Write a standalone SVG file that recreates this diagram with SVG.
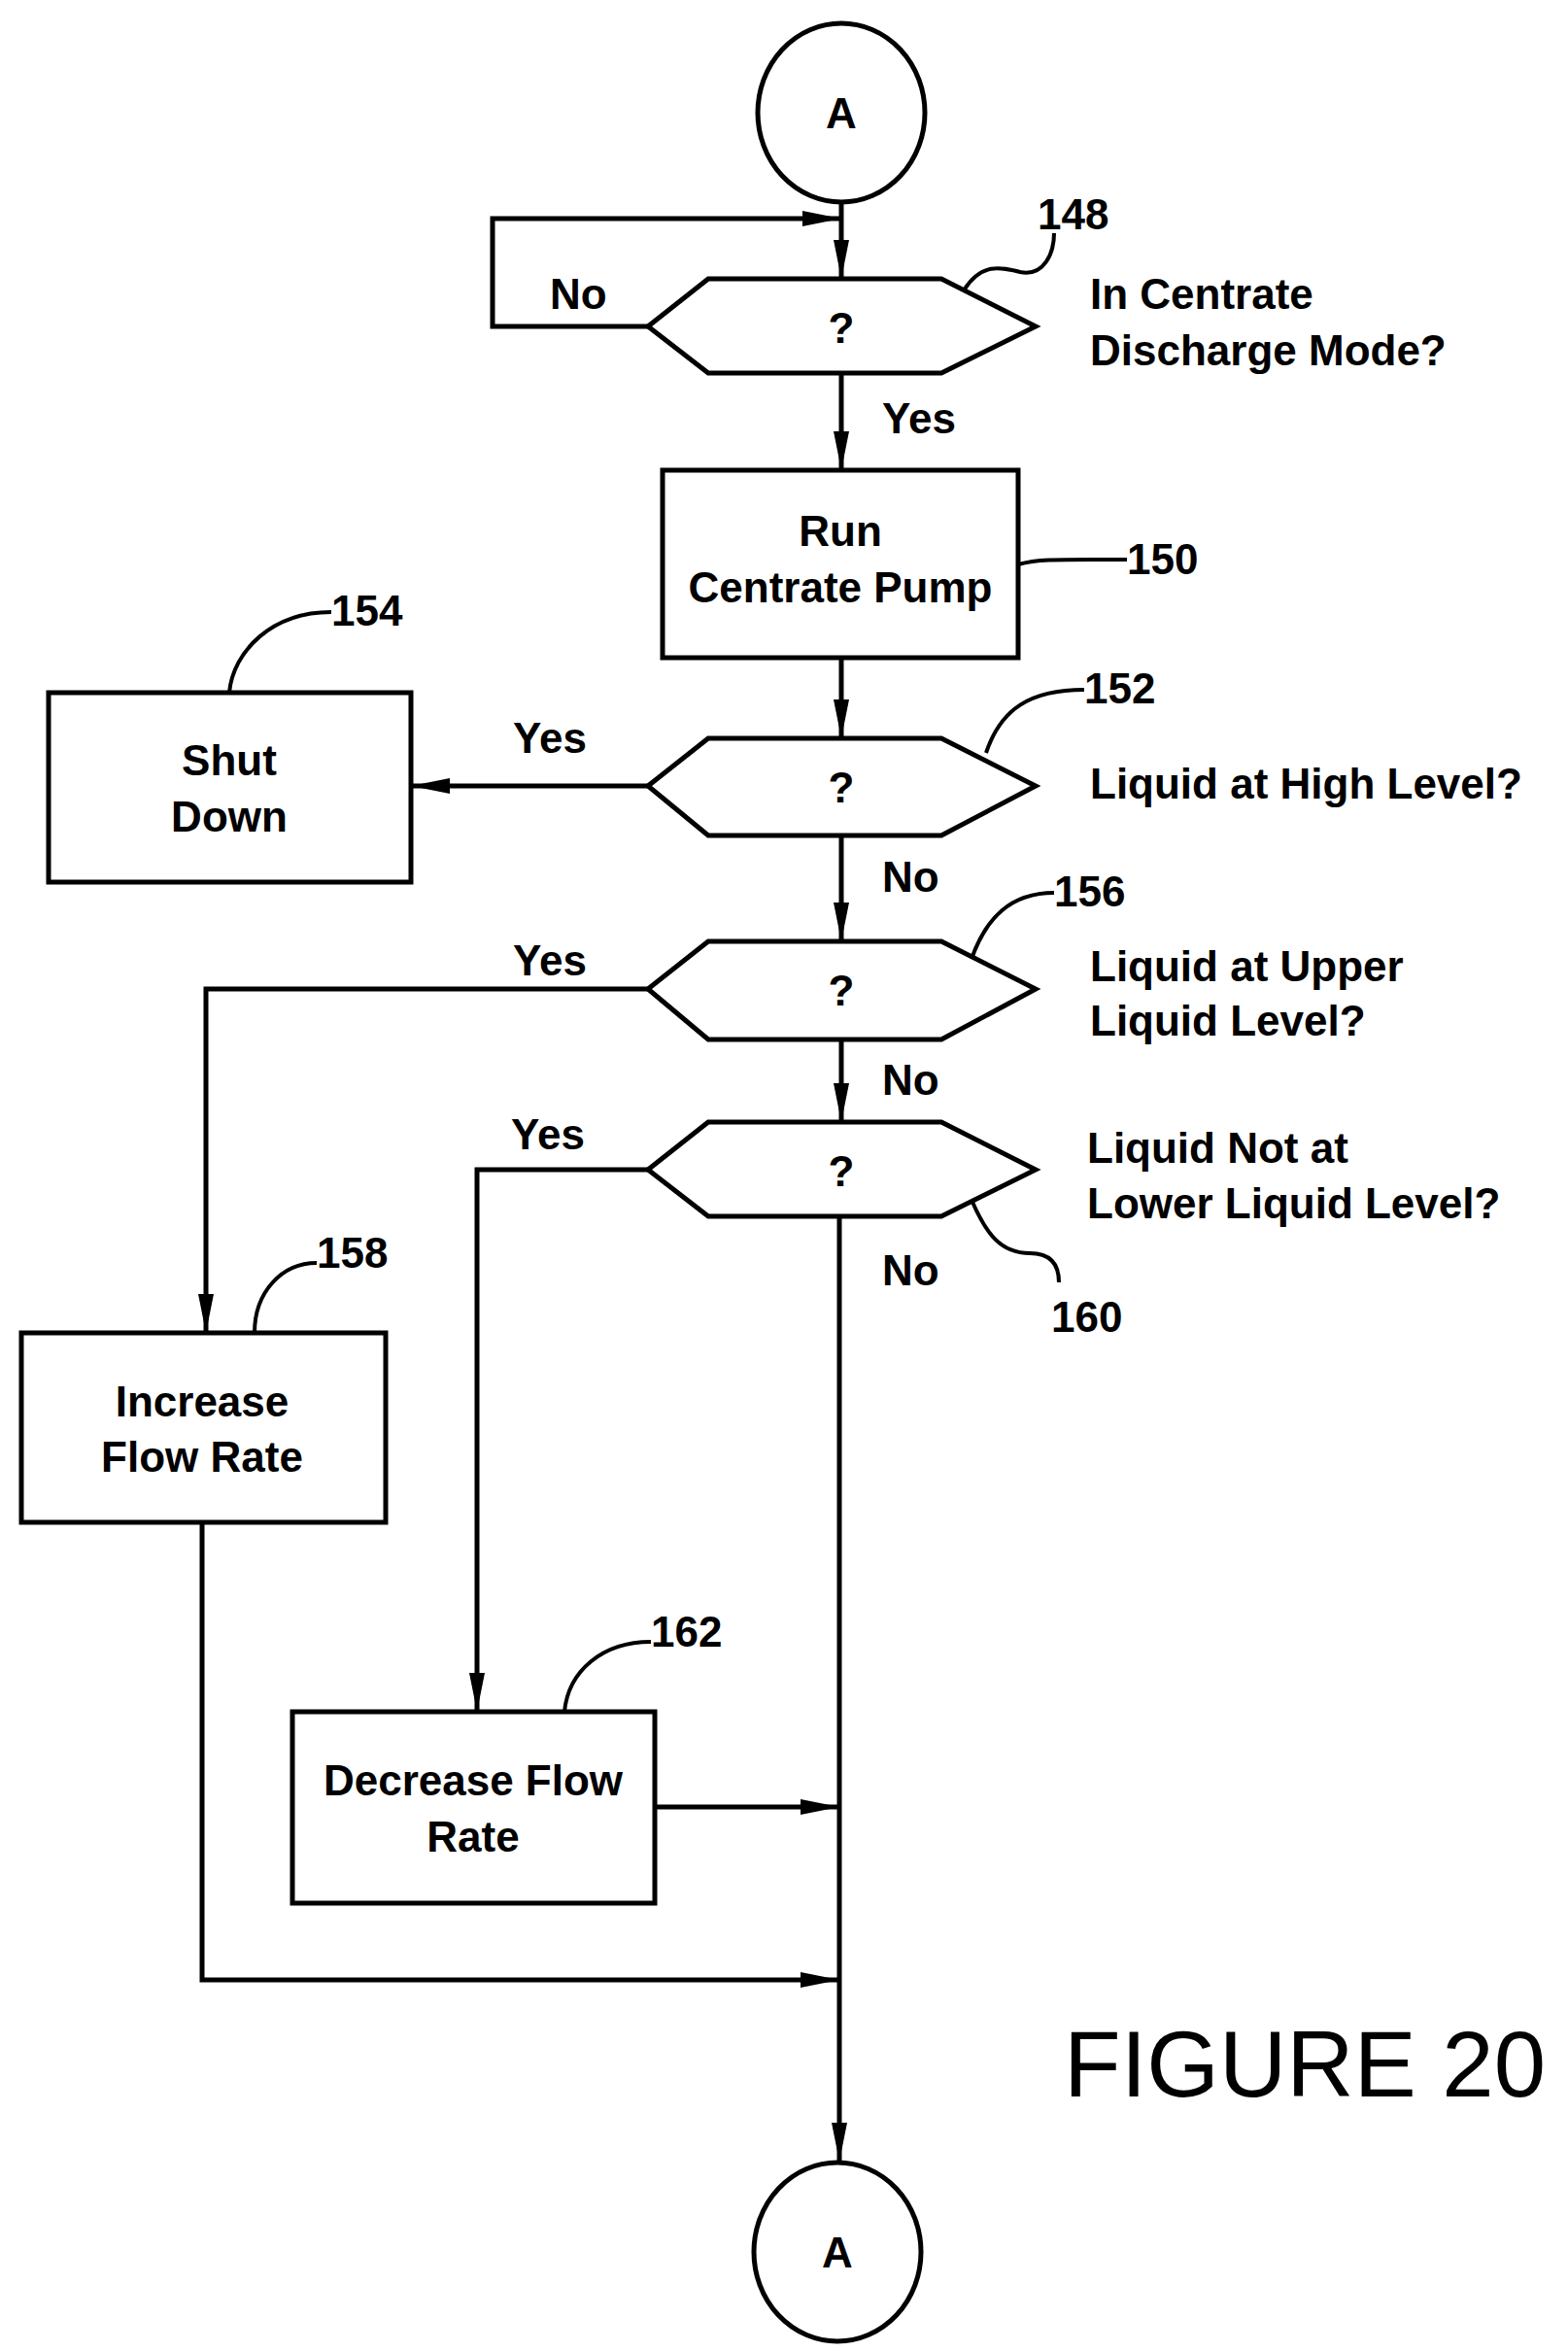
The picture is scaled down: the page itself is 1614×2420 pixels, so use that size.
<svg xmlns="http://www.w3.org/2000/svg" width="1614" height="2420" viewBox="0 0 1614 2420">
<style>
text{font-family:"Liberation Sans",Arial,sans-serif;font-weight:bold;font-size:44px;fill:#000}
.c{text-anchor:middle}
.s{fill:#fff;stroke:#000;stroke-width:5}
.l{fill:none;stroke:#000;stroke-width:5}
.t{fill:none;stroke:#000;stroke-width:4}
.fig{font-weight:normal;font-size:96px}
</style>
<defs>
<marker id="b" viewBox="0 0 40 16" refX="40" refY="8" markerWidth="40" markerHeight="16" markerUnits="userSpaceOnUse" orient="auto">
<path d="M0,0 L40,8 L0,16 z" fill="#000"/>
</marker>
</defs>
<g id="connectors">
<line class="l" x1="866" y1="208" x2="866" y2="287" marker-end="url(#b)"/>
<polyline class="l" points="667,336 507,336 507,225 866,225" marker-end="url(#b)"/>
<line class="l" x1="866" y1="384" x2="866" y2="484" marker-end="url(#b)"/>
<line class="l" x1="866" y1="677" x2="866" y2="760" marker-end="url(#b)"/>
<line class="l" x1="667" y1="809" x2="423" y2="809" marker-end="url(#b)"/>
<line class="l" x1="866" y1="860" x2="866" y2="969" marker-end="url(#b)"/>
<polyline class="l" points="667,1018 212,1018 212,1372" marker-end="url(#b)"/>
<line class="l" x1="866" y1="1070" x2="866" y2="1155" marker-end="url(#b)"/>
<polyline class="l" points="667,1204 491,1204 491,1762" marker-end="url(#b)"/>
<line class="l" x1="864" y1="1252" x2="864" y2="2225" marker-end="url(#b)"/>
<line class="l" x1="674" y1="1860" x2="864" y2="1860" marker-end="url(#b)"/>
<polyline class="l" points="208,1567 208,2038 864,2038" marker-end="url(#b)"/>
</g>
<g id="startA"><ellipse class="s" cx="866" cy="116" rx="86" ry="92"/><text class="c" x="866" y="132">A</text></g>
<g id="n148">
<polygon class="s" points="667,336 729,287 969,287 1066,336 969,384 729,384"/>
<text class="c" x="866" y="353">?</text>
<path class="t" d="M992,299 C1010,270 1030,275 1050,280 C1075,285 1085,260 1085,240"/>
<text x="1068" y="236">148</text>
<text x="1122" y="318">In Centrate</text>
<text x="1122" y="376">Discharge Mode?</text>
</g>
<text x="566" y="318">No</text>
<text x="908" y="446">Yes</text>
<g id="n150">
<rect class="s" x="682" y="484" width="366" height="193"/>
<text class="c" x="865" y="562">Run</text>
<text class="c" x="865" y="620">Centrate Pump</text>
<path class="t" d="M1048,581 C1070,575 1090,576 1160,576"/>
<text x="1160" y="591">150</text>
</g>
<g id="n152">
<polygon class="s" points="667,809 729,760 969,760 1066,809 969,860 729,860"/>
<text class="c" x="866" y="826">?</text>
<path class="t" d="M1015,775 C1030,730 1060,710 1116,710"/>
<text x="1116" y="724">152</text>
<text x="1122" y="822">Liquid at High Level?</text>
</g>
<text x="528" y="775">Yes</text>
<g id="n154">
<rect class="s" x="50" y="713" width="373" height="195"/>
<text class="c" x="236" y="798">Shut</text>
<text class="c" x="236" y="856">Down</text>
<path class="t" d="M236,713 C240,670 280,630 341,630"/>
<text x="341" y="644">154</text>
</g>
<text x="908" y="918">No</text>
<g id="n156">
<polygon class="s" points="667,1018 729,969 969,969 1066,1018 969,1070 729,1070"/>
<text class="c" x="866" y="1035">?</text>
<path class="t" d="M1000,987 C1015,945 1040,919 1085,919"/>
<text x="1085" y="933">156</text>
<text x="1122" y="1010">Liquid at Upper</text>
<text x="1122" y="1066">Liquid Level?</text>
</g>
<text x="528" y="1004">Yes</text>
<text x="908" y="1127">No</text>
<g id="n160">
<polygon class="s" points="667,1204 729,1155 969,1155 1066,1204 969,1252 729,1252"/>
<text class="c" x="866" y="1221">?</text>
<path class="t" d="M1000,1235 C1015,1270 1030,1290 1060,1290 C1080,1290 1090,1300 1090,1320"/>
<text x="1082" y="1371">160</text>
<text x="1119" y="1197">Liquid Not at</text>
<text x="1119" y="1254">Lower Liquid Level?</text>
</g>
<text x="526" y="1183">Yes</text>
<text x="908" y="1323">No</text>
<g id="n158">
<rect class="s" x="22" y="1372" width="375" height="195"/>
<text class="c" x="208" y="1458">Increase</text>
<text class="c" x="208" y="1515">Flow Rate</text>
<path class="t" d="M262,1372 C262,1330 290,1300 326,1300"/>
<text x="326" y="1305">158</text>
</g>
<g id="n162">
<rect class="s" x="301" y="1762" width="373" height="197"/>
<text class="c" x="487" y="1848">Decrease Flow</text>
<text class="c" x="487" y="1906">Rate</text>
<path class="t" d="M581,1762 C585,1720 620,1690 670,1690"/>
<text x="670" y="1695">162</text>
</g>
<g id="endA"><ellipse class="s" cx="862" cy="2318" rx="86" ry="92"/><text class="c" x="862" y="2334">A</text></g>
<text class="fig" x="1095" y="2158">FIGURE 20</text>
</svg>
